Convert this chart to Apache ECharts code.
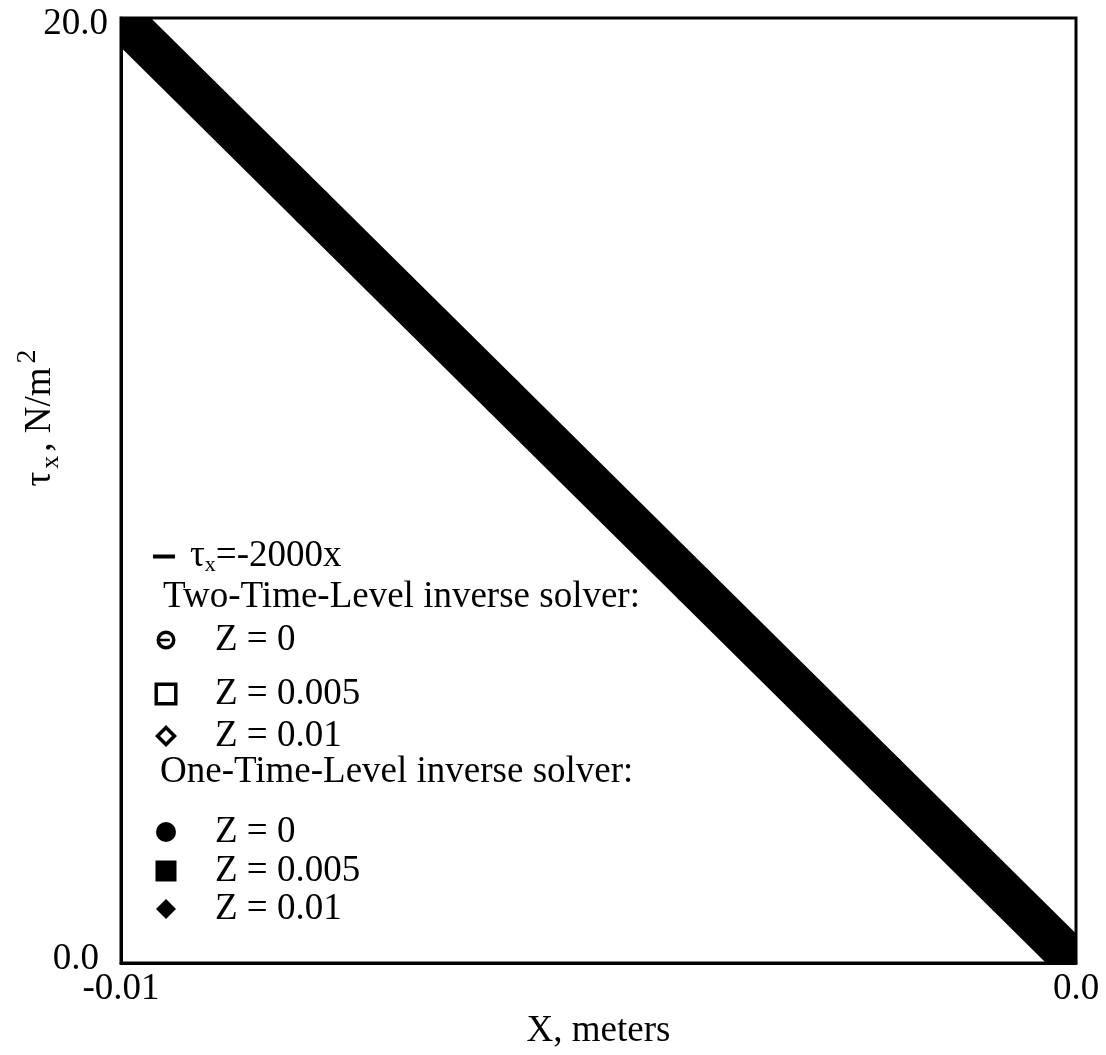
<!DOCTYPE html>
<html>
<head>
<meta charset="utf-8">
<script src="https://cdn.jsdelivr.net/npm/echarts@6/dist/echarts.min.js"></script>
<style>
  html, body { margin: 0; padding: 0; background: #fff; }
  #chart { width: 1106px; height: 1055px; }
</style>
</head>
<body>
<div id="chart"></div>
<script>
// ---- data ----
const xMeters = [-0.01, -0.008, -0.006, -0.004, -0.002, 0.0];
const tauAnalytic = [20, 16, 12, 8, 4, 0];            // tau_x = -2000 x
// solver points (all lie inside the thick analytic band)
const xSolver = [-0.009, -0.007, -0.005, -0.003, -0.001];
const twoLevelZ0 = [18, 14, 10, 6, 2];
const twoLevelZ005 = [18, 14, 10, 6, 2];
const twoLevelZ01 = [18, 14, 10, 6, 2];
const oneLevelZ0 = [18, 14, 10, 6, 2];
const oneLevelZ005 = [18, 14, 10, 6, 2];
const oneLevelZ01 = [18, 14, 10, 6, 2];
const xTickLabels = { '-0.01': '-0.01', '0': '0.0' };
const yTickLabels = { '0': '0.0', '20': '20.0' };

const FONT = '"Liberation Serif", "Times New Roman", serif';
const FS = 37;

function pairs(xs, ys) { return xs.map((x, i) => [x, ys[i]]); }
function segments(xs, ys) {
  const out = [];
  for (let i = 0; i < xs.length - 1; i++) out.push([xs[i], ys[i], xs[i + 1], ys[i + 1]]);
  return out;
}

// legend icon shapes (ring shapes so the outline is thick)
const ICON_RING_BAR = 'path://M0,10A10,10 0 1,1 20,10A10,10 0 1,1 0,10ZM3.6,10A6.4,6.4 0 1,0 16.4,10A6.4,6.4 0 1,0 3.6,10ZM3,8.6H14V11.4H3Z';
const ICON_EMPTY_RECT = 'path://M0,0H20V20H0ZM3,3V17H17V3Z';
const ICON_EMPTY_DIAMOND = 'path://M10,0L20,10L10,20L0,10ZM10,4.6L4.6,10L10,15.4L15.4,10Z';

const chart = echarts.init(document.getElementById('chart'), null, { renderer: 'canvas' });

const markerSeries = [
  { name: 'Z = 0 (two)', symbol: 'emptyCircle', data: twoLevelZ0 },
  { name: 'Z = 0.005 (two)', symbol: 'emptyRect', data: twoLevelZ005 },
  { name: 'Z = 0.01 (two)', symbol: 'emptyDiamond', data: twoLevelZ01 },
  { name: 'Z = 0 (one)', symbol: 'circle', data: oneLevelZ0 },
  { name: 'Z = 0.005 (one)', symbol: 'rect', data: oneLevelZ005 },
  { name: 'Z = 0.01 (one)', symbol: 'diamond', data: oneLevelZ01 }
];

// legend placement (icon centre y, text centre y, icon size)
const legendRows = [
  { name: 'Z = 0 (two)', label: 'Z = 0', icon: ICON_RING_BAR, iy: 640, ty: 640, w: 19, h: 19 },
  { name: 'Z = 0.005 (two)', label: 'Z = 0.005', icon: ICON_EMPTY_RECT, iy: 694, ty: 694, w: 23, h: 23 },
  { name: 'Z = 0.01 (two)', label: 'Z = 0.01', icon: ICON_EMPTY_DIAMOND, iy: 736, ty: 736, w: 22, h: 22 },
  { name: 'Z = 0 (one)', label: 'Z = 0', icon: 'circle', iy: 826, ty: 832, w: 20, h: 20 },
  { name: 'Z = 0.005 (one)', label: 'Z = 0.005', icon: 'rect', iy: 867, ty: 871, w: 21, h: 21 },
  { name: 'Z = 0.01 (one)', label: 'Z = 0.01', icon: 'diamond', iy: 902, ty: 909, w: 20, h: 20 }
];

const legends = [{
  data: [{ name: 'tau', icon: 'rect' }],
  left: 153, top: 558 - 20,
  padding: 0,
  itemWidth: 22, itemHeight: 4,
  selectedMode: false,
  formatter: () => '{t|τ}{s|x}{n|=-2000x}',
  textStyle: {
    color: '#000', fontFamily: FONT, fontSize: FS, padding: [0, 0, 0, 10],
    rich: {
      t: { fontFamily: FONT, fontSize: FS, color: '#000', lineHeight: 40 },
      s: { fontFamily: FONT, fontSize: 22, color: '#000', padding: [18, 0, 0, 0] },
      n: { fontFamily: FONT, fontSize: FS, color: '#000', lineHeight: 40 }
    }
  },
  itemStyle: { color: '#000', opacity: 1 }
}];
legendRows.forEach(r => {
  const h = 40;
  const dy = r.ty - r.iy;
  legends.push({
    data: [{ name: r.name, icon: r.icon }],
    left: 166 - r.w / 2,
    top: r.iy - h / 2,
    padding: 0,
    itemWidth: r.w, itemHeight: r.h,
    selectedMode: false,
    formatter: () => r.label,
    textStyle: {
      color: '#000', fontFamily: FONT, fontSize: FS, lineHeight: h,
      padding: [Math.max(0, 2 * dy), 0, Math.max(0, -2 * dy), 215 - (166 + r.w / 2) - 5]
    },
    itemStyle: { color: '#000', opacity: 1, borderWidth: 0 }
  });
});

const option = {
  backgroundColor: '#fff',
  animation: false,
  grid: { left: 121, top: 18, right: 30, bottom: 77, show: true, borderColor: '#000', borderWidth: 3, backgroundColor: 'transparent' },
  xAxis: {
    type: 'value', min: -0.01, max: 0, interval: 0.01,
    axisLine: { show: true, onZero: false, lineStyle: { color: '#000', width: 3 } },
    axisTick: { show: false },
    splitLine: { show: false },
    axisLabel: {
      color: '#000', fontFamily: FONT, fontSize: FS, margin: 8,
      formatter: v => xTickLabels[String(Math.round(v * 100) / 100)] ?? ''
    },
    name: 'X, meters', nameLocation: 'middle', nameGap: 33,
    nameTextStyle: { color: '#000', fontFamily: FONT, fontSize: FS }
  },
  yAxis: {
    type: 'value', min: 0, max: 20, interval: 20,
    axisLine: { show: true, onZero: false, lineStyle: { color: '#000', width: 3 } },
    axisTick: { show: false },
    splitLine: { show: false },
    axisLabel: {
      color: '#000', fontFamily: FONT, fontSize: FS, margin: 13,
      formatter: v => v === 20 ? '{a|' + yTickLabels['20'] + '}' : '{b|' + yTickLabels['0'] + '}',
      rich: {
        a: { fontFamily: FONT, fontSize: FS, color: '#000', padding: [12, 0, 0, 0] },
        b: { fontFamily: FONT, fontSize: FS, color: '#000', padding: [0, 9, 8, 0] }
      }
    }
  },
  legend: legends,
  graphic: [
    {
      type: 'text', x: 163, y: 597,
      style: { text: 'Two-Time-Level inverse solver:', font: FS + 'px ' + FONT, fill: '#000', verticalAlign: 'middle', align: 'left' }
    },
    {
      type: 'text', x: 160, y: 772,
      style: { text: 'One-Time-Level inverse solver:', font: FS + 'px ' + FONT, fill: '#000', verticalAlign: 'middle', align: 'left' }
    },
    {
      type: 'text', x: 40, y: 418, rotation: Math.PI / 2,
      style: {
        text: '{t|τ}{s|x}{n|, N/m}{p|2}',
        align: 'center', verticalAlign: 'middle',
        rich: {
          t: { font: FS + 'px ' + FONT, fill: '#000', lineHeight: 40 },
          s: { font: '26px ' + FONT, fill: '#000', padding: [22, 4, 0, 3] },
          n: { font: FS + 'px ' + FONT, fill: '#000', lineHeight: 40 },
          p: { font: '28px ' + FONT, fill: '#000', padding: [0, 0, 24, 4] }
        }
      }
    }
  ],
  series: [
    ...markerSeries.map(m => ({
      type: 'scatter', name: m.name, symbol: m.symbol, symbolSize: 18, z: 1,
      itemStyle: { color: '#000', borderColor: '#000', borderWidth: 3, opacity: 1 },
      data: pairs(xSolver, m.data)
    })),
    {
      type: 'custom', name: 'tau', z: 3, clip: true,
      itemStyle: { color: '#000' },
      encode: { x: [0, 2], y: [1, 3] },
      data: segments(xMeters, tauAnalytic),
      renderItem: (params, api) => {
        const p0 = api.coord([api.value(0), api.value(1)]);
        const p1 = api.coord([api.value(2), api.value(3)]);
        return {
          type: 'line',
          shape: { x1: p0[0], y1: p0[1], x2: p1[0], y2: p1[1] },
          style: { stroke: '#000', lineWidth: 42, lineCap: 'round', fill: null }
        };
      }
    }
  ]
};
chart.setOption(option);
</script>
</body>
</html>
